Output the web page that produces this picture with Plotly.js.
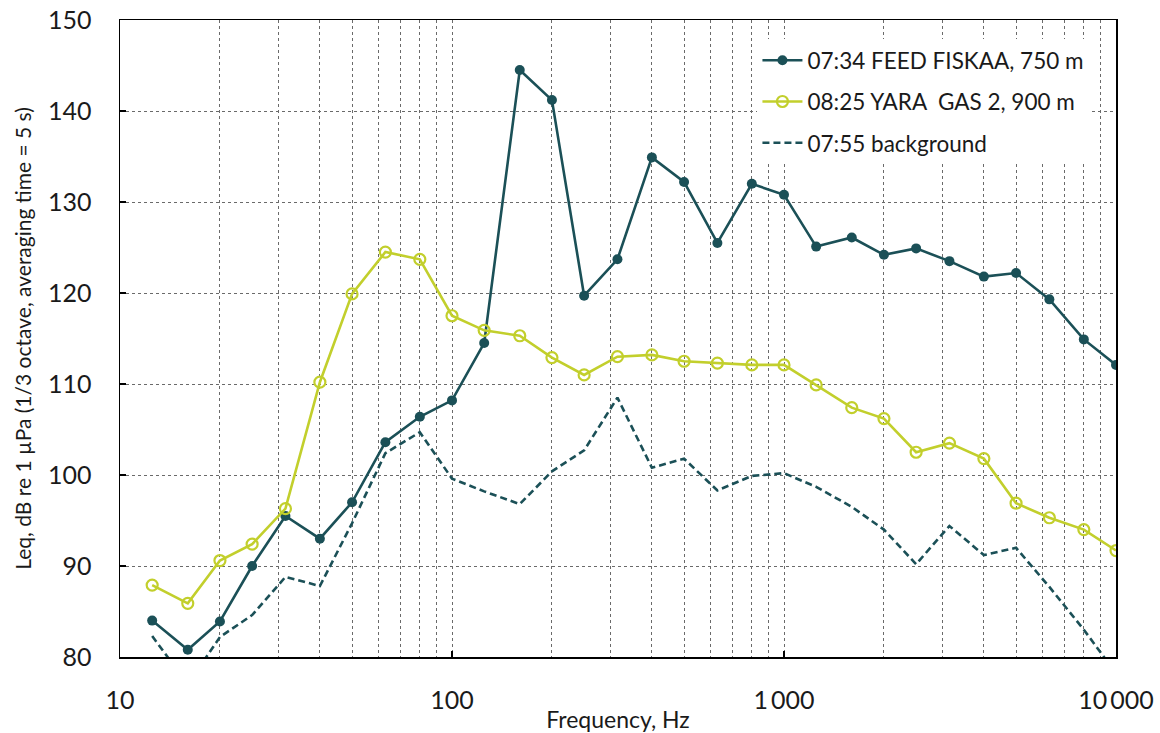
<!DOCTYPE html>
<html>
<head>
<meta charset="utf-8">
<script src="https://cdn.plot.ly/plotly-3.0.1.min.js"></script>
<style>
  html, body { margin: 0; padding: 0; background: #fff; }
  #chart { width: 1160px; height: 733px; }
</style>
</head>
<body>
<div id="chart"></div>
<script>
// One-third octave band centre frequencies, Hz
const freqs = [12.5, 16, 20, 25, 31.5, 40, 50, 63, 80, 100, 125, 160, 200, 250, 315,
               400, 500, 630, 800, 1000, 1250, 1600, 2000, 2500, 3150, 4000, 5000, 6300, 8000, 10000];

// Leq per band, dB re 1 µPa
const feedFiskaa = [84.0, 80.8, 83.9, 90.0, 95.5, 93.0, 97.0, 103.6, 106.4, 108.2,
                    114.5, 144.5, 141.2, 119.7, 123.7, 134.9, 132.2, 125.5, 132.0, 130.8,
                    125.1, 126.1, 124.2, 124.9, 123.5, 121.8, 122.2, 119.3, 114.9, 112.1];

const yaraGas = [87.9, 85.9, 90.6, 92.4, 96.3, 110.2, 119.9, 124.5, 123.7, 117.5,
                 115.9, 115.3, 112.9, 111.0, 113.0, 113.2, 112.5, 112.3, 112.1, 112.1,
                 109.9, 107.4, 106.2, 102.5, 103.5, 101.8, 96.9, 95.3, 94.0, 91.7];

const background = [82.3, 77.0, 82.2, 84.6, 88.8, 87.8, 94.7, 102.4, 104.7, 99.6,
                    98.2, 96.8, 100.4, 102.7, 108.5, 100.8, 101.8, 98.3, 99.9, 100.2,
                    98.7, 96.5, 94.0, 90.2, 94.4, 91.2, 92.0, 87.7, 83.0, 78.2];

const seriesNames = ['07:34 FEED FISKAA, 750 m', '08:25 YARA  GAS 2, 900 m', '07:55 background'];

const xTickVals = [10, 100, 1000, 10000];
const xTickText = ['10', '100', '1\u2009000', '10\u2009000'];
const yTickVals = [80, 90, 100, 110, 120, 130, 140, 150];

const darkTeal = '#1b5057';
const limeGreen = '#c2cf2c';
const gridGrey = '#6a6a6a';
const textColor = '#1a1a1a';
const fontFamily = 'Lato, "Open Sans", sans-serif';

const traces = [
  {
    x: freqs, y: feedFiskaa, name: seriesNames[0], legendgroup: 'g1',
    type: 'scatter', mode: 'lines+markers',
    line: { color: darkTeal, width: 2.6 },
    marker: { color: darkTeal, size: 10, symbol: 'circle' }
  },
  {
    x: freqs, y: yaraGas, name: seriesNames[1], legendgroup: 'g2',
    type: 'scatter', mode: 'lines+markers',
    line: { color: limeGreen, width: 2.6 },
    marker: { color: limeGreen, size: 11, symbol: 'circle-open',
              line: { color: limeGreen, width: 2.2 } }
  },
  {
    x: freqs, y: background, name: seriesNames[2], legendgroup: 'g3',
    type: 'scatter', mode: 'lines',
    line: { color: darkTeal, width: 2.6, dash: '7px,4px' }
  }
];

const layout = {
  width: 1160,
  height: 733,
  paper_bgcolor: '#fff',
  plot_bgcolor: '#fff',
  margin: { l: 120, r: 44, t: 20, b: 76 },
  font: { family: fontFamily, color: textColor, size: 22 },
  showlegend: true,
  legend: {
    x: 0.64, y: 0.97, xanchor: 'left', yanchor: 'top',
    bgcolor: '#fff', borderwidth: 0,
    font: { family: fontFamily, size: 22.5, color: textColor },
    traceorder: 'grouped', tracegroupgap: 9, itemwidth: 40
  },
  xaxis: {
    type: 'log',
    range: [1, 4],
    tickvals: xTickVals,
    ticktext: xTickText,
    ticks: 'inside', ticklen: 6, tickwidth: 1.5, tickcolor: '#000',
    ticklabelstandoff: 20,
    tickfont: { size: 25, color: textColor },
    showline: true, linecolor: '#000', linewidth: 1.5, mirror: true,
    showgrid: true, gridcolor: gridGrey, gridwidth: 1, griddash: 'dot',
    minor: { dtick: 'D1', showgrid: true, gridcolor: gridGrey, gridwidth: 1, griddash: 'dot', ticks: '' },
    zeroline: false,
    title: { text: 'Frequency, Hz', font: { size: 23, color: textColor }, standoff: 2 }
  },
  yaxis: {
    range: [80, 150],
    tickvals: yTickVals,
    ticks: 'inside', ticklen: 6, tickwidth: 1.5, tickcolor: '#000',
    ticklabelstandoff: 22,
    tickfont: { size: 25, color: textColor },
    showline: true, linecolor: '#000', linewidth: 1.5, mirror: true,
    showgrid: true, gridcolor: gridGrey, gridwidth: 1, griddash: 'dot',
    zeroline: false,
    title: { text: 'Leq, dB re 1 µPa (1/3 octave, averaging time = 5 s)', font: { size: 21, color: textColor }, standoff: 10 }
  }
};

Plotly.newPlot('chart', traces, layout, { displayModeBar: false, staticPlot: true });
</script>
</body>
</html>
